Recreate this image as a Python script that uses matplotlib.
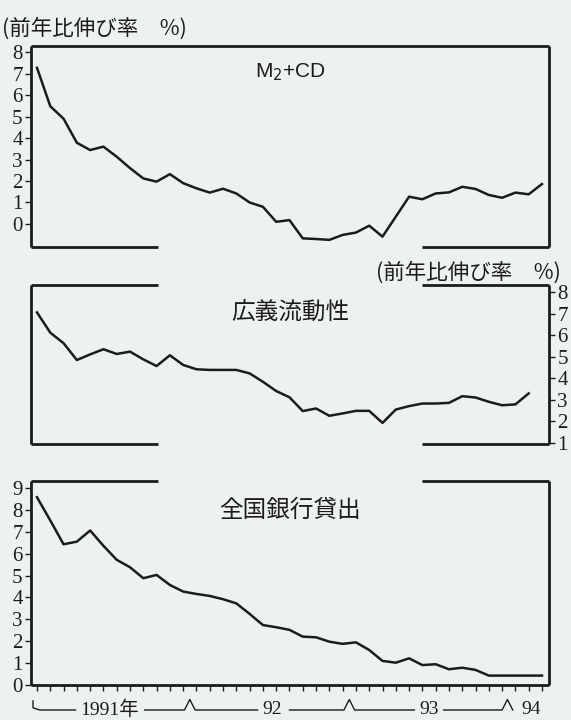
import numpy as np
import matplotlib.pyplot as plt
from matplotlib.transforms import blended_transform_factory

# 月次データ (1991年1月〜1994年3月)
months = np.arange(39)

m2cd = [7.27, 5.48, 4.90, 3.78, 3.44, 3.60, 3.13, 2.60, 2.12, 1.97,
        2.32, 1.90, 1.66, 1.46, 1.64, 1.42, 1.00, 0.80, 0.10, 0.18,
        -0.67, -0.70, -0.74, -0.51, -0.40, -0.08, -0.59, 0.34, 1.27, 1.15,
        1.42, 1.47, 1.73, 1.63, 1.35, 1.22, 1.46, 1.38, 1.86]

liquidity = [7.06, 6.12, 5.63, 4.85, 5.11, 5.35, 5.13, 5.24, 4.88, 4.57,
             5.07, 4.62, 4.42, 4.39, 4.39, 4.39, 4.23, 3.84, 3.41, 3.12,
             2.48, 2.60, 2.26, 2.37, 2.49, 2.49, 1.93, 2.55, 2.71, 2.83,
             2.83, 2.86, 3.17, 3.11, 2.91, 2.75, 2.79, 3.30]

loans = [8.58, 7.52, 6.43, 6.55, 7.06, 6.36, 5.72, 5.38, 4.88, 5.03,
         4.57, 4.27, 4.16, 4.07, 3.92, 3.73, 3.25, 2.74, 2.64, 2.52,
         2.21, 2.18, 1.98, 1.88, 1.95, 1.60, 1.10, 1.02, 1.22, 0.91,
         0.95, 0.72, 0.79, 0.69, 0.43, 0.43, 0.43, 0.43, 0.43]

titles = ['M$_2$+CD', '広義流動性', '全国銀行貸出']
ylabel = '(前年比伸び率\u3000%)'

bg = '#edf2f0'
ink = '#1c1c1c'
serif = ['Liberation Serif', 'Noto Sans CJK JP']
jp = ['Noto Sans CJK JP', 'DejaVu Sans']

fig = plt.figure(figsize=(5.71, 7.2), dpi=100, facecolor=bg)

L, W = 0.0543, 0.9072
ax1 = fig.add_axes([L, 0.657, W, 0.279])
ax2 = fig.add_axes([L, 0.3833, W, 0.2208])
ax3 = fig.add_axes([L, 0.0486, W, 0.2833])

gap = (0.245, 0.755)


def frame(ax, top_split, bottom_split):
    for s in ax.spines.values():
        s.set_visible(False)
    kw = dict(transform=ax.transAxes, clip_on=False, color=ink, lw=2.0,
              solid_capstyle='butt')
    ax.plot([0, 0], [0, 1], **kw)
    ax.plot([1, 1], [0, 1], **kw)
    for y, split in ((1, top_split), (0, bottom_split)):
        if split:
            ax.plot([0, gap[0]], [y, y], **kw)
            ax.plot([gap[1], 1], [y, y], **kw)
        else:
            ax.plot([0, 1], [y, y], **kw)


for ax in (ax1, ax2, ax3):
    ax.set_facecolor(bg)
    ax.set_xlim(-0.45, 38.53)
    ax.tick_params(colors=ink, width=1.0, length=4, labelsize=15, pad=2)

# パネル1
ax1.plot(months, m2cd, color=ink, lw=1.8)
ax1.set_ylim(-1.07, 8.28)
ax1.set_yticks(range(0, 9))
ax1.set_xticks([])
frame(ax1, False, True)
ax1.text(0.5, 0.87, titles[0], transform=ax1.transAxes, ha='center',
         va='center', fontsize=15, family='Liberation Sans', color=ink)

# パネル2
ax2.plot(months[:len(liquidity)], liquidity, color=ink, lw=1.8)
ax2.set_ylim(0.95, 8.33)
ax2.set_yticks(range(1, 9))
ax2.yaxis.tick_right()
ax2.set_xticks([])
frame(ax2, True, True)
ax2.text(0.5, 0.83, titles[1], transform=ax2.transAxes, ha='center',
         va='center', fontsize=17, family=jp, color=ink)

# パネル3
ax3.plot(months, loans, color=ink, lw=1.8)
ax3.set_ylim(0, 9.32)
ax3.set_yticks(range(0, 10))
ax3.set_xticks(months)
ax3.set_xticklabels([])
ax3.tick_params(axis='x', length=4, width=1.0)
frame(ax3, True, False)
ax3.text(0.5, 0.855, titles[2], transform=ax3.transAxes, ha='center',
         va='center', fontsize=17, family=jp, color=ink)

for ax in (ax1, ax2, ax3):
    for lab in ax.get_yticklabels():
        lab.set_family(serif)

# 縦軸の単位
fig.text(0.004, 0.961, ylabel, fontsize=15.5, family=jp, color=ink,
         ha='left', va='center')
fig.text(0.982, 0.622, ylabel, fontsize=15.5, family=jp, color=ink,
         ha='right', va='center')

# 年の区切り
tr = blended_transform_factory(ax3.transData, fig.transFigure)
yl, yp = 0.0139, 0.0285
lk = dict(transform=tr, clip_on=False, color=ink, lw=1.0)
ax3.plot([-0.3, -0.3, 0.2, 2.9], [yp - 0.002, yl + 0.003, yl, yl], **lk)
ax3.plot([8.1, 11.1, 11.5, 11.9, 16.6], [yl, yl, yp, yl, yl], **lk)
ax3.plot([19.0, 23.1, 23.5, 23.9, 28.4], [yl, yl, yp, yl, yl], **lk)
ax3.plot([30.6, 35.0, 35.4, 35.8], [yl, yl, yp, yl], **lk)
year_labels = ['1991年', '92', '93', '94']
year_pos = [5.5, 17.7, 29.5, 37.2]
for x, t in zip(year_pos, year_labels):
    ax3.text(x, yl, t, transform=tr, ha='center', va='center',
             fontsize=14, family=serif, color=ink,
             bbox=dict(facecolor=bg, edgecolor='none', pad=0.5))

fig.savefig('out.png', dpi=100, facecolor=bg)
